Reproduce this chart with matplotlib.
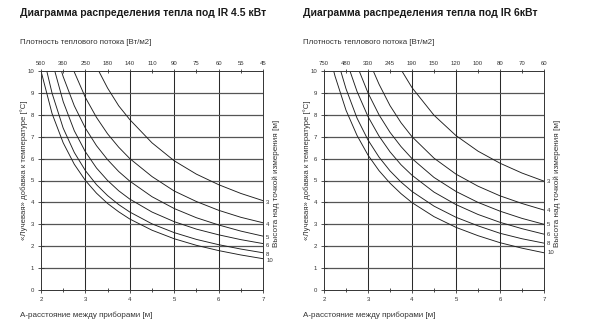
import numpy as np
import matplotlib.pyplot as plt

plt.rcParams['font.family'] = ['Liberation Sans', 'DejaVu Sans']

# distance between heaters [m], shared x grid of the readings
dist = [2.0, 2.25, 2.5, 2.75, 3.0, 3.25, 3.5, 3.75, 4.0, 4.5, 5.0, 5.5, 6.0, 6.5, 7.0]
heights = [3, 4, 5, 6, 8, 10]

# --- IR 4.5 kW: distance where each curve leaves the top (10 °C) and values on dist
start_45 = [3.30, 2.74, 2.46, 2.31, 2.13, 2.00]
temp_45_h3 = [None, None, None, None, None, None, 9.22, 8.41, 7.78, 6.72, 5.90, 5.29, 4.81, 4.41, 4.08]
temp_45_h4 = [None, None, None, None, 8.79, 7.88, 7.13, 6.52, 6.00, 5.18, 4.52, 4.04, 3.64, 3.32, 3.07]
temp_45_h5 = [None, None, 9.74, 8.41, 7.39, 6.59, 5.95, 5.41, 4.97, 4.26, 3.72, 3.30, 2.97, 2.69, 2.46]
temp_45_h6 = [None, None, 8.60, 7.27, 6.31, 5.57, 5.00, 4.53, 4.15, 3.56, 3.12, 2.78, 2.52, 2.30, 2.12]
temp_45_h8 = [None, 8.98, 7.39, 6.28, 5.45, 4.81, 4.31, 3.90, 3.56, 3.02, 2.62, 2.31, 2.07, 1.87, 1.70]
temp_45_h10 = [10.0, 8.05, 6.72, 5.74, 5.00, 4.42, 3.95, 3.57, 3.24, 2.73, 2.34, 2.04, 1.80, 1.60, 1.43]
flux_45 = ['560', '360', '250', '180', '140', '110', '90', '75', '60', '55', '45']

# --- IR 6 kW
start_6 = [3.77, 3.12, 2.80, 2.59, 2.38, 2.22]
temp_6_h3 = [None, None, None, None, None, None, None, None, 9.24, 7.98, 7.05, 6.34, 5.79, 5.34, 4.97]
temp_6_h4 = [None, None, None, None, None, 9.40, 8.42, 7.64, 7.00, 6.02, 5.29, 4.74, 4.30, 3.95, 3.65]
temp_6_h5 = [None, None, None, None, 9.00, 8.00, 7.20, 6.55, 6.00, 5.14, 4.50, 4.00, 3.60, 3.27, 3.00]
temp_6_h6 = [None, None, None, 9.07, 7.92, 7.03, 6.31, 5.72, 5.24, 4.47, 3.90, 3.45, 3.09, 2.80, 2.55]
temp_6_h8 = [None, None, 9.19, 7.85, 6.85, 6.07, 5.44, 4.93, 4.50, 3.83, 3.32, 2.93, 2.59, 2.34, 2.14]
temp_6_h10 = [None, 9.77, 8.21, 7.06, 6.16, 5.45, 4.88, 4.40, 3.99, 3.35, 2.86, 2.48, 2.16, 1.91, 1.70]
flux_6 = ['750', '480', '330', '245', '190', '150', '120', '100', '80', '70', '60']

W, H = 600, 331


def fx(px):
    return px / W


def fy(py):
    return 1 - py / H


def draw_chart(left_px, right_px, starts, series, flux, title, label_shift):
    ax = fig.add_axes([fx(left_px), fy(290), fx(right_px - left_px), 219 / H])
    ax.set_xlim(2, 7)
    ax.set_ylim(0, 10)

    for x in [3, 4, 5, 6]:
        ax.axvline(x, color='#2a2a2a', lw=0.75, zorder=1)
    for y in range(1, 10):
        ax.axhline(y, color='#555555', lw=0.9, zorder=1)

    for h, x0, vals in zip(heights, starts, series):
        xs = [x0] + [d for d, v in zip(dist, vals) if v is not None and d > x0]
        ys = [10.0] + [v for d, v in zip(dist, vals) if v is not None and d > x0]
        ax.plot(xs, ys, color='#1e1e1e', lw=0.65, zorder=2, clip_on=True)
        ax.text(7.07, ys[-1] + label_shift, str(h), fontsize=4.3, color='#333333',
                ha='left', va='center', clip_on=False)

    for s in ax.spines.values():
        s.set_color('#333333')
        s.set_linewidth(0.7)

    ax.set_xticks([2, 3, 4, 5, 6, 7])
    ax.set_xticks(np.arange(2.5, 7, 1.0), minor=True)
    ax.set_yticks(range(0, 11))
    ax.tick_params(axis='both', which='both', labelsize=4.3, colors='#333333',
                   width=0.6, direction='inout', pad=3)
    ax.tick_params(axis='both', which='major', length=4)
    ax.tick_params(axis='both', which='minor', length=3)

    top = ax.secondary_xaxis('top')
    top.set_xticks(np.arange(2.0, 7.01, 0.5), flux)
    top.tick_params(labelsize=4.3, colors='#333333', width=0.6, length=3,
                    direction='inout', pad=2)
    top.spines['top'].set_visible(False)

    fig.text(fx(left_px - 21), fy(13), title, fontsize=7.5, fontweight='bold',
             color='#1a1a1a', ha='left', va='center')
    fig.text(fx(left_px - 21), fy(42), 'Плотность теплового потока [Вт/м2]',
             fontsize=5.7, color='#333333', ha='left', va='center')
    fig.text(fx(left_px - 21), fy(315), 'A-расстояние между приборами [м]',
             fontsize=5.8, color='#333333', ha='left', va='center')
    fig.text(fx(left_px - 17), fy(170), '«Лучевая» добавка к температуре [°C]',
             fontsize=5.6, color='#333333', rotation=90, ha='center', va='center')
    fig.text(fx(right_px + 13), fy(183), 'Высота над точкой измерения [м]',
             fontsize=5.9, color='#333333', rotation=90, ha='center', va='center')
    return ax


fig = plt.figure(figsize=(W / 100, H / 100), dpi=100)
fig.patch.set_facecolor('white')

draw_chart(41, 263, start_45,
           [temp_45_h3, temp_45_h4, temp_45_h5, temp_45_h6, temp_45_h8, temp_45_h10],
           flux_45, 'Диаграмма распределения тепла под IR 4.5 кВт', -0.07)
draw_chart(324, 544, start_6,
           [temp_6_h3, temp_6_h4, temp_6_h5, temp_6_h6, temp_6_h8, temp_6_h10],
           flux_6, 'Диаграмма распределения тепла под IR 6кВт', 0.0)

fig.savefig('out.png', dpi=100)
